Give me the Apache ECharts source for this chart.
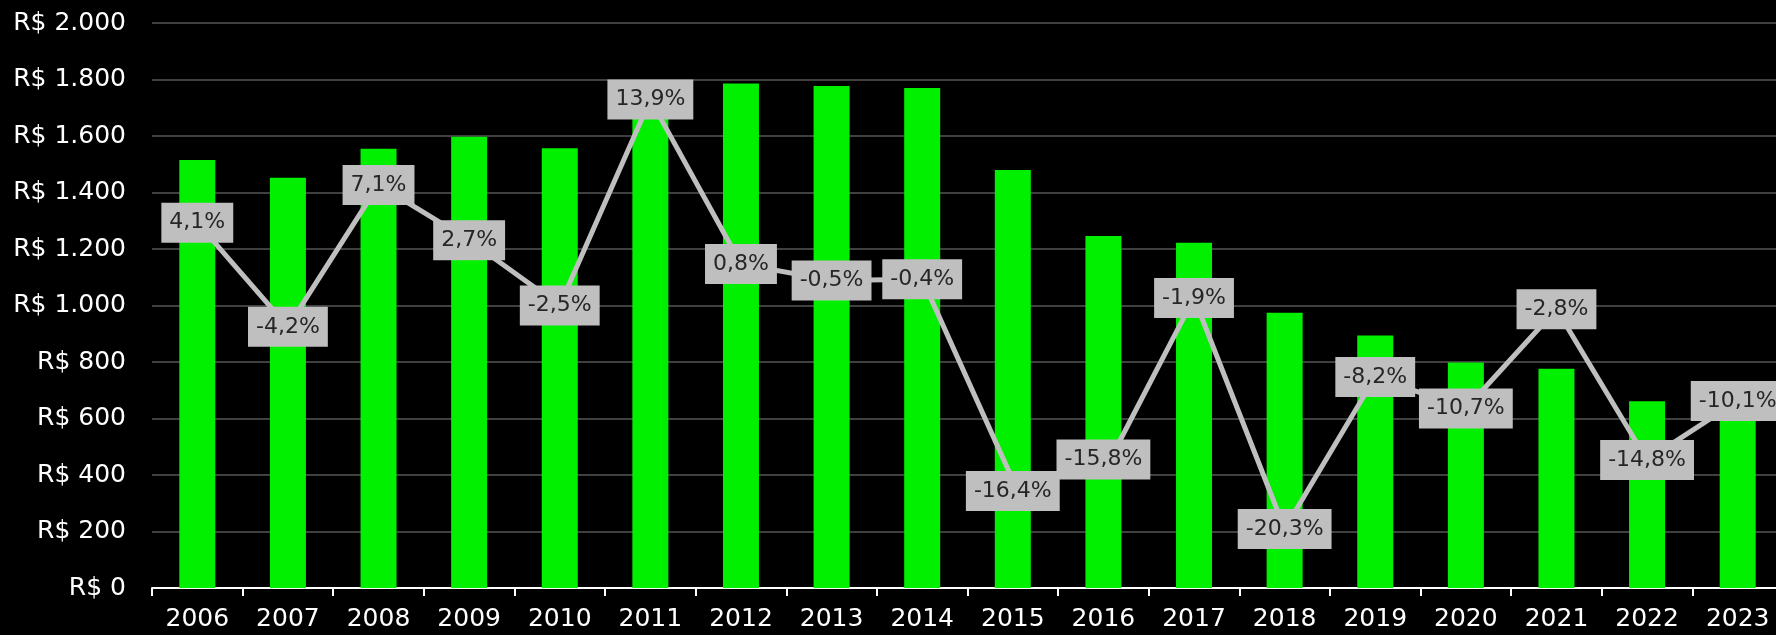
<!DOCTYPE html>
<html>
<head>
<meta charset="utf-8">
<script src="https://cdn.jsdelivr.net/npm/echarts@6/dist/echarts.min.js"></script>
<style>
  html, body { margin: 0; padding: 0; background: #000; }
  #chart { width: 1776px; height: 635px; }
</style>
</head>
<body>
<div id="chart"></div>
<script>
// ---- Data ----
const categories = ['2006','2007','2008','2009','2010','2011','2012','2013','2014','2015','2016','2017','2018','2019','2020','2021','2022','2023'];
const priceValues = [1515, 1452, 1555, 1597, 1557, 1772, 1786, 1777, 1770, 1480, 1246, 1222, 974, 894, 798, 776, 661, 594];
const growthPct = [4.1, -4.2, 7.1, 2.7, -2.5, 13.9, 0.8, -0.5, -0.4, -16.4, -15.8, -1.9, -20.3, -8.2, -10.7, -2.8, -14.8, -10.1];

// ---- Layout helpers (kept separate from data) ----
const labelShift = { 9: [0, 11], 10: [0, -13] };

const FONT = 'DejaVu Sans';

function brl(v) {
  return 'R$ ' + String(v).replace(/\B(?=(\d{3})+(?!\d))/g, '.');
}
function pct(v) {
  return v.toFixed(1).replace('.', ',') + '%';
}

const lineData = growthPct.map((v, i) => {
  const d = { value: v };
  if (labelShift[i]) d.label = { offset: labelShift[i] };
  return d;
});

const chart = echarts.init(document.getElementById('chart'), null, { renderer: 'canvas' });
chart.setOption({
  backgroundColor: '#000000',
  animation: false,
  grid: {
    left: 152, top: 23, width: 1631, height: 565,
    containLabel: false, outerBoundsMode: 'none'
  },
  xAxis: {
    type: 'category',
    data: categories,
    boundaryGap: true,
    axisLine: { show: true, lineStyle: { color: '#ffffff', width: 2 } },
    axisTick: { show: true, alignWithLabel: false, length: 8, lineStyle: { color: '#ffffff', width: 2 } },
    axisLabel: { color: '#ffffff', fontFamily: FONT, fontSize: 25, margin: 19, interval: 0 },
    splitLine: { show: false }
  },
  yAxis: [
    {
      type: 'value',
      min: 0, max: 2000, interval: 200,
      axisLine: { show: false },
      axisTick: { show: false },
      axisLabel: { color: '#ffffff', fontFamily: FONT, fontSize: 25, margin: 26, formatter: brl },
      splitLine: { show: true, lineStyle: { color: '#404040', width: 2 } }
    },
    {
      type: 'value',
      min: -25, max: 20, interval: 5,
      show: false,
      splitLine: { show: false }
    }
  ],
  series: [
    {
      name: 'Preço',
      type: 'bar',
      data: priceValues,
      yAxisIndex: 0,
      barWidth: 36,
      itemStyle: { color: '#00f000' },
      z: 2
    },
    {
      name: 'Variação',
      type: 'line',
      data: lineData,
      yAxisIndex: 1,
      symbol: 'circle',
      symbolSize: 1,
      showSymbol: true,
      itemStyle: { color: 'rgba(0,0,0,0)' },
      lineStyle: { color: '#bfbfbf', width: 5 },
      z: 3,
      label: {
        show: true,
        position: 'inside',
        formatter: p => pct(p.value),
        color: '#262626',
        fontFamily: FONT,
        fontSize: 22,
        lineHeight: 28,
        backgroundColor: '#bfbfbf',
        padding: [6, 8, 6, 8]
      }
    }
  ]
});
</script>
</body>
</html>
